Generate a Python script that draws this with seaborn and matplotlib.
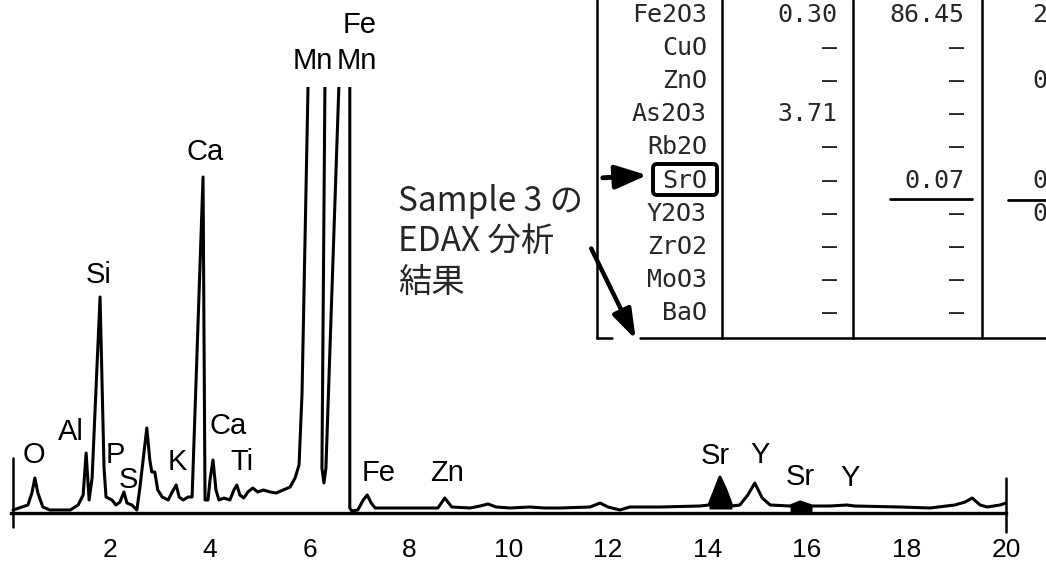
import numpy as np
import pandas as pd
import matplotlib.pyplot as plt
import seaborn as sns

# spectrum: energy (keV) and counts (arbitrary, clipped at the top)
energy = [0.04, 0.34, 0.42, 0.48, 0.54, 0.64, 0.78, 1.19, 1.35, 1.45, 1.51, 1.57, 1.63,
          1.79, 1.87, 1.91, 2.03, 2.11, 2.19, 2.27, 2.33, 2.43, 2.53, 2.59, 2.73, 2.79,
          2.83, 2.89, 2.95, 3.04, 3.16, 3.24, 3.32, 3.38, 3.46, 3.56, 3.64, 3.86, 3.90,
          3.96, 4.00, 4.06, 4.12, 4.18, 4.28, 4.40, 4.48, 4.54, 4.60, 4.68, 4.76, 4.86,
          4.96, 5.07, 5.21, 5.33, 5.47, 5.61, 5.71, 5.79, 5.85, 5.97, 6.14, 6.31, 6.25,
          6.29, 6.33, 6.59, 6.70, 6.81, 6.81, 6.85, 6.97, 7.08, 7.16, 7.24, 7.32, 7.52,
          7.82, 8.22, 8.58, 8.72, 8.86, 9.23, 9.43, 9.59, 9.75, 10.03, 10.43, 10.73,
          11.04, 11.64, 11.84, 12.00, 12.24, 12.44, 13.05, 13.85, 14.03, 14.15, 14.25,
          14.37, 14.49, 14.65, 14.81, 14.95, 15.10, 15.26, 15.66, 15.86, 16.10, 16.46,
          16.80, 16.96, 17.87, 18.47, 18.97, 19.18, 19.32, 19.48, 19.62, 19.88, 20.0]
counts = [3, 8, 20, 35, 20, 6, 3, 3, 8, 18, 60, 13, 35,
          216, 45, 16, 13, 8, 11, 21, 10, 8, 3, 25, 85, 53,
          41, 41, 23, 16, 13, 21, 28, 16, 13, 16, 16, 336, 13,
          13, 33, 53, 23, 13, 15, 13, 23, 28, 18, 15, 21, 25,
          21, 23, 21, 20, 23, 26, 35, 48, 120, 426, 900, 426, 45,
          30, 45, 426, 900, 426, 5, 2, 3, 13, 18, 10, 5, 5,
          5, 5, 5, 15, 6, 5, 7, 9, 6, 5, 6, 5,
          5, 6, 10, 6, 3, 6, 6, 7, 8, 23, 36,
          23, 7, 8, 18, 30, 15, 8, 7, 11, 7, 7,
          8, 7, 6, 5, 8, 11, 15, 8, 6, 8, 10]

# element labels (text, energy, counts)
peak_names = ["Fe", "Mn", "Mn", "Ca", "Si", "O", "Al", "P", "S", "K", "Ca", "Ti",
              "Fe", "Zn", "Sr", "Y", "Sr", "Y"]
peak_x = [7.01, 6.07, 6.95, 3.90, 1.77, 0.46, 1.21, 2.09, 2.35, 3.34, 4.36, 4.64,
          7.38, 8.76, 14.15, 15.06, 15.86, 16.86]
peak_y = [488, 452, 452, 361, 238, 58, 81, 58, 33, 51, 87, 51,
          40, 40, 57, 58, 36, 35]

xticks = [2, 4, 6, 8, 10, 12, 14, 16, 18, 20]

# oxide table (partly cut off at the right edge)
oxides = ["Fe2O3", "CuO", "ZnO", "As2O3", "Rb2O", "SrO", "Y2O3", "ZrO2", "MoO3", "BaO"]
col1 = ["0.30", "–", "–", "3.71", "–", "–", "–", "–", "–", "–"]
col2 = ["86.45", "–", "–", "–", "–", "0.07", "–", "–", "–", "–"]
col3 = ["2", "", "0", "", "", "0", "0", "", "", ""]

note = "Sample 3 の\nEDAX 分析\n結果"

sns.set_theme(style="white")
plt.rcParams['font.family'] = ['Liberation Sans', 'Noto Sans CJK JP', 'DejaVu Sans']

W, H = 1046, 565
fig = plt.figure(figsize=(W / 100, H / 100), dpi=100)
fig.patch.set_facecolor('white')

ax = fig.add_axes([11 / W, 52 / H, 995 / W, 426 / H])
df = pd.DataFrame({'Energy': energy, 'Counts': counts})
sns.lineplot(data=df, x='Energy', y='Counts', sort=False, estimator=None,
             color='black', lw=2.2, ax=ax)

e = np.array(energy)
c = np.array(counts)
m1 = (e >= 14.03) & (e <= 14.49)
ax.fill_between(e[m1], 4, c[m1], color='black', lw=0)
m2 = (e >= 15.66) & (e <= 16.10)
ax.fill_between(e[m2], 0, c[m2], color='black', lw=0)

ax.set_xlim(0, 20)
ax.set_ylim(0, 426)
ax.set_facecolor('none')
for s in ['left', 'right', 'top']:
    ax.spines[s].set_visible(False)
ax.spines['bottom'].set_linewidth(2.4)
ax.spines['bottom'].set_color('black')
ax.set_xticks(xticks)
ax.set_xticklabels([str(t) for t in xticks])
ax.set_yticks([])
ax.tick_params(axis='x', direction='out', length=10, width=1.8, color='black',
               pad=8, labelsize=19, labelcolor='black')
ax.set_xlabel('')
ax.set_ylabel('')
ax.axvline(0.04, ymin=-14 / 426, ymax=55 / 426, color='black', lw=1.8, clip_on=False)
ax.axvline(20.0, ymin=-19 / 426, ymax=35 / 426, color='black', lw=1.8, clip_on=False)

for name, px, py in zip(peak_names, peak_x, peak_y):
    ax.text(px, py, name, ha='center', va='center', fontsize=21, color='black',
            clip_on=False)

# overlay in pixel coordinates for the table and the handwritten note
ov = fig.add_axes([0, 0, 1, 1])
ov.set_xlim(0, W)
ov.set_ylim(H, 0)
ov.axis('off')
ov.patch.set_alpha(0)

lw = 1.8
ov.plot([597, 597], [0, 338], color='black', lw=lw)
ov.plot([597, 612], [338, 338], color='black', lw=lw)
ov.plot([640, W], [338, 338], color='black', lw=lw)
for cx in [722, 853, 982]:
    ov.plot([cx, cx], [0, 338], color='black', lw=lw)

mono = 'DejaVu Sans Mono'
for i, (ox, v1, v2, v3) in enumerate(zip(oxides, col1, col2, col3)):
    ry = 15 + 33.1 * i
    ov.text(707, ry, ox, ha='right', va='center', fontsize=18, family=mono)
    ov.text(837, ry, v1, ha='right', va='center', fontsize=18, family=mono)
    ov.text(964, ry, v2, ha='right', va='center', fontsize=18, family=mono)
    if v3:
        ov.text(1032, ry, v3, ha='left', va='center', fontsize=18, family=mono)

# SrO highlight: box, arrow, underlines
ov.add_patch(plt.matplotlib.patches.FancyBboxPatch(
    (653, 164), 64, 31, boxstyle='round,pad=0,rounding_size=4',
    fill=False, ec='black', lw=2.8))
ov.annotate('', xy=(650, 175), xytext=(600, 178),
            arrowprops=dict(arrowstyle='-|>,head_length=1.6,head_width=0.6',
                            color='black', lw=3.5))
ov.plot([890, 972], [199, 199], color='black', lw=2)
ov.plot([1008, W], [200, 200], color='black', lw=2)

ov.text(398, 242, note, ha='left', va='center', fontsize=24,
        linespacing=1.2, family=['Noto Sans CJK JP', 'DejaVu Sans'])
ov.annotate('', xy=(637, 342), xytext=(590, 246),
            arrowprops=dict(arrowstyle='-|>,head_length=1.5,head_width=0.5',
                            color='black', lw=3.2))

fig.savefig('out.png', dpi=100, facecolor='white')
